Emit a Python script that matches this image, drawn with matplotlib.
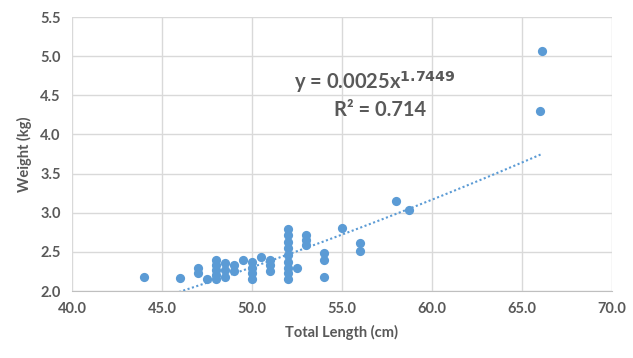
import numpy as np
import matplotlib
matplotlib.use("Agg")
import matplotlib.pyplot as plt

# total length (cm) and weight (kg)
length = [44.0, 46.0, 47.0, 47.0, 47.5,
          48.0, 48.0, 48.0, 48.0, 48.0,
          48.5, 48.5, 48.5, 49.0, 49.0, 49.5,
          50.0, 50.0, 50.0, 50.0, 50.5,
          51.0, 51.0, 51.0,
          52.0, 52.0, 52.0, 52.0, 52.0, 52.0, 52.0, 52.0, 52.0,
          52.5, 53.0, 53.0, 53.0,
          54.0, 54.0, 54.0, 55.0, 56.0, 56.0,
          58.0, 58.7, 66.1, 66.0]
weight = [2.18, 2.17, 2.29, 2.23, 2.15,
          2.40, 2.33, 2.27, 2.20, 2.15,
          2.36, 2.27, 2.18, 2.33, 2.25, 2.40,
          2.37, 2.29, 2.23, 2.16, 2.44,
          2.40, 2.33, 2.25,
          2.79, 2.72, 2.63, 2.55, 2.46, 2.37, 2.29, 2.23, 2.16,
          2.29, 2.72, 2.65, 2.59,
          2.49, 2.40, 2.18, 2.81, 2.62, 2.51,
          3.15, 3.04, 5.06, 4.30]

# power trendline y = a * x^b
coef_a = 0.0025
coef_b = 1.7449
r2 = 0.714

blue = "#5B9BD5"
grey = "#595959"

plt.rcParams['font.family'] = ['Lato', 'DejaVu Sans']

fig = plt.figure(figsize=(6.33, 3.58), dpi=100)
ax = fig.add_axes([0.1137, 0.187, 0.853, 0.7655])

ax.scatter(length, weight, s=44, color=blue, zorder=3, linewidths=0)

xt = np.linspace(min(length), max(length), 100)
ax.plot(xt, coef_a * xt ** coef_b, color=blue, linestyle=(0, (1, 1.2)),
        linewidth=1.5, zorder=2)

ax.set_xlim(40, 70)
ax.set_ylim(2.0, 5.5)
ax.set_xticks(np.arange(40, 70.1, 5))
ax.set_yticks(np.arange(2.0, 5.51, 0.5))
ax.xaxis.set_major_formatter(matplotlib.ticker.FormatStrFormatter('%.1f'))
ax.yaxis.set_major_formatter(matplotlib.ticker.FormatStrFormatter('%.1f'))
ax.grid(True, color="#D9D9D9", linewidth=1)
ax.set_axisbelow(True)
for s in ['top', 'right', 'left']:
    ax.spines[s].set_visible(False)
ax.spines['bottom'].set_color("#BFBFBF")
ax.tick_params(length=0, labelsize=10.5, labelcolor=grey, pad=8)
for lab in ax.get_xticklabels() + ax.get_yticklabels():
    lab.set_fontweight('bold')

ax.set_xlabel("Total Length (cm)", fontsize=10.5, color=grey, fontweight='bold', labelpad=6)
ax.set_ylabel("Weight (kg)", fontsize=10.5, color=grey, fontweight='bold', labelpad=6)

ax.text(56.8, 4.67, r"y = 0.0025x$^{\mathbf{1.7449}}$", fontsize=14.5, color=grey,
        fontweight='bold', ha='center', va='center')
ax.text(57.1, 4.31, "R² = 0.714", fontsize=14.5, color=grey,
        fontweight='bold', ha='center', va='center')

fig.savefig("out.png", dpi=100)
